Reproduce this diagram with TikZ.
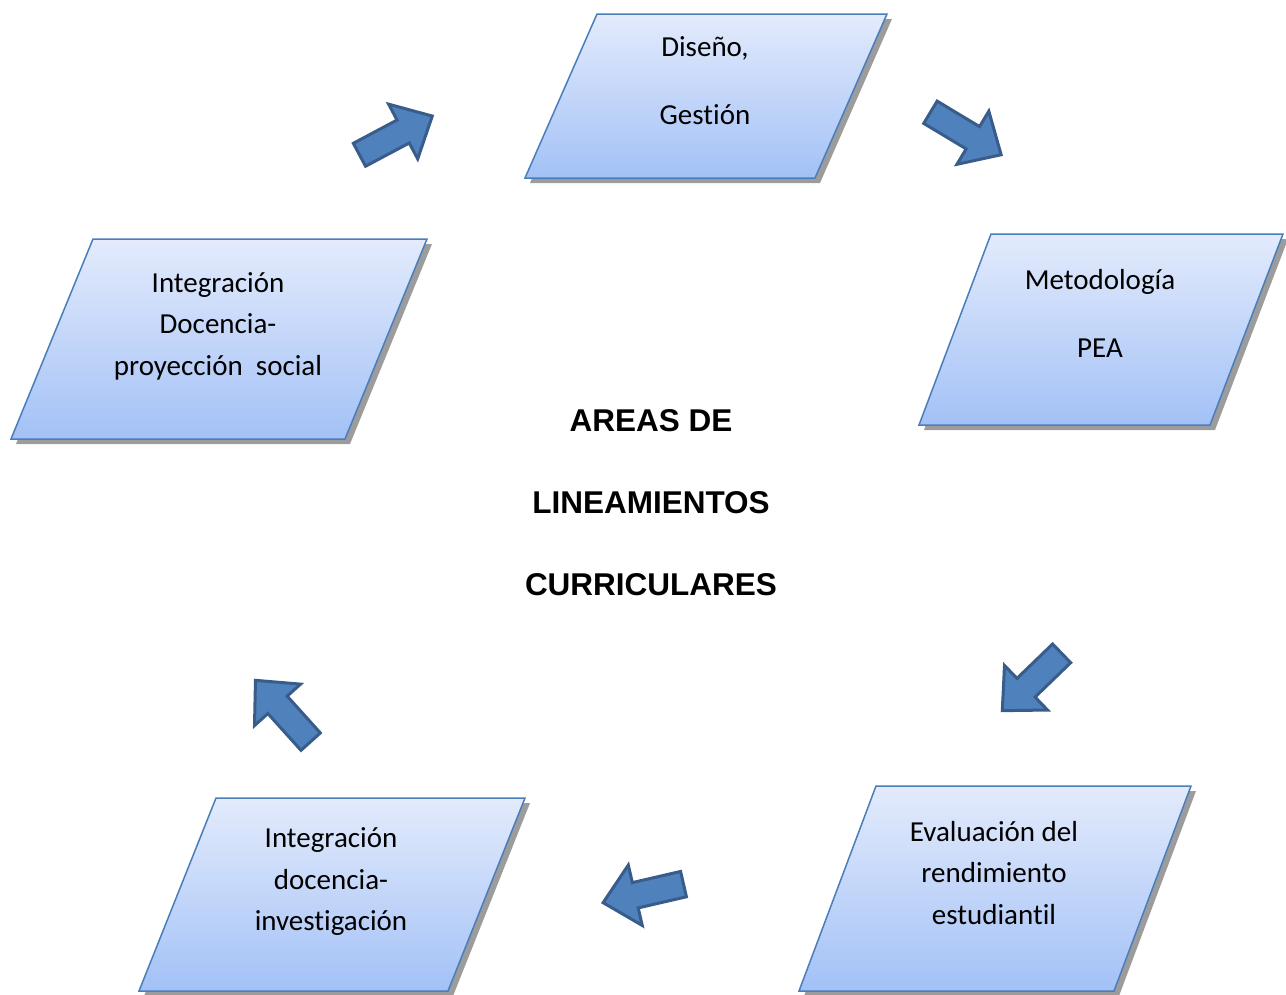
\documentclass[tikz,border=0pt]{standalone}
\usepackage{fontspec}
\setmainfont{Carlito}[RawFeature=-liga]
\newfontfamily\titlefont{Liberation Sans}
\definecolor{boxtop}{HTML}{E3EBFC}
\definecolor{boxbot}{HTML}{A3C1F6}
\definecolor{boxline}{HTML}{4A7EBB}
\definecolor{shadowgray}{HTML}{9C9C9C}
\definecolor{arrfill}{HTML}{4F81BD}
\definecolor{arrline}{HTML}{385D8A}
\tikzset{
  boxshadow/.style={fill=shadowgray},
  boxshape/.style={top color=boxtop,bottom color=boxbot,draw=boxline,line width=1.5pt,line join=miter},
  boxtext/.style={align=center,font=\fontsize{29}{41.5}\selectfont,inner sep=0pt},
  wideboxtext/.style={align=center,font=\fontsize{29}{68}\selectfont,inner sep=0pt},
  titletext/.style={align=center,font=\titlefont\bfseries\fontsize{31.5}{82}\selectfont,inner sep=0pt},
  arrowshape/.style={fill=arrfill,draw=arrline,line width=3pt,line join=miter},
  blockarrow/.pic={
    \path[arrowshape] (0.5,-13) -- (50,-13) -- (50,-31) -- (83,0) -- (50,31) -- (50,13) -- (0.5,13) -- cycle;
  }
}
% #1 top y, #2 bottom y, #3 top-left x, #4 top-right x, #5 bottom-right x, #6 bottom-left x
\newcommand{\pgram}[6]{%
  \fill[boxshadow] ([shift={(5,5)}]#3,#1) -- ([shift={(5,5)}]#4,#1) -- ([shift={(5,5)}]#5,#2) -- ([shift={(5,5)}]#6,#2) -- cycle;
  \path[boxshape] (#3,#1) -- (#4,#1) -- (#5,#2) -- (#6,#2) -- cycle;
}
\begin{document}
\begin{tikzpicture}[x=1pt,y=-1pt]
\useasboundingbox (0,0) rectangle (1286,994);
% boxes
\pgram{14}{178}{597}{887}{815}{525}
\pgram{234}{425}{991}{1283}{1210}{919}
\pgram{239}{439}{93}{427}{345}{11}
\pgram{798}{991}{216}{525}{448}{139}
\pgram{786}{991}{876}{1191}{1114}{799}
% texts
\node[wideboxtext] (design) at (705,81) {Diseño,\\Gestión};
\node[wideboxtext] (method) at (1100,313) {Metodología\\PEA};
\node[boxtext] (social) at (218,326) {Integración\\Docencia-\\proyección\ \ social};
\node[boxtext] (research) at (331,882) {Integración\\docencia-\\investigación};
\node[boxtext] (eval) at (994,873) {Evaluación del\\rendimiento\\estudiantil};
\node[titletext] (title) at (651,503) {AREAS DE\\LINEAMIENTOS\\CURRICULARES};
% block arrows
\pic[rotate=28] at (359,155) {blockarrow};
\pic[rotate=-31] at (930,112) {blockarrow};
\pic[rotate=224] at (1062,653) {blockarrow};
\pic[rotate=132] at (311,742) {blockarrow};
\pic[rotate=193] at (684,884) {blockarrow};
\end{tikzpicture}
\end{document}
